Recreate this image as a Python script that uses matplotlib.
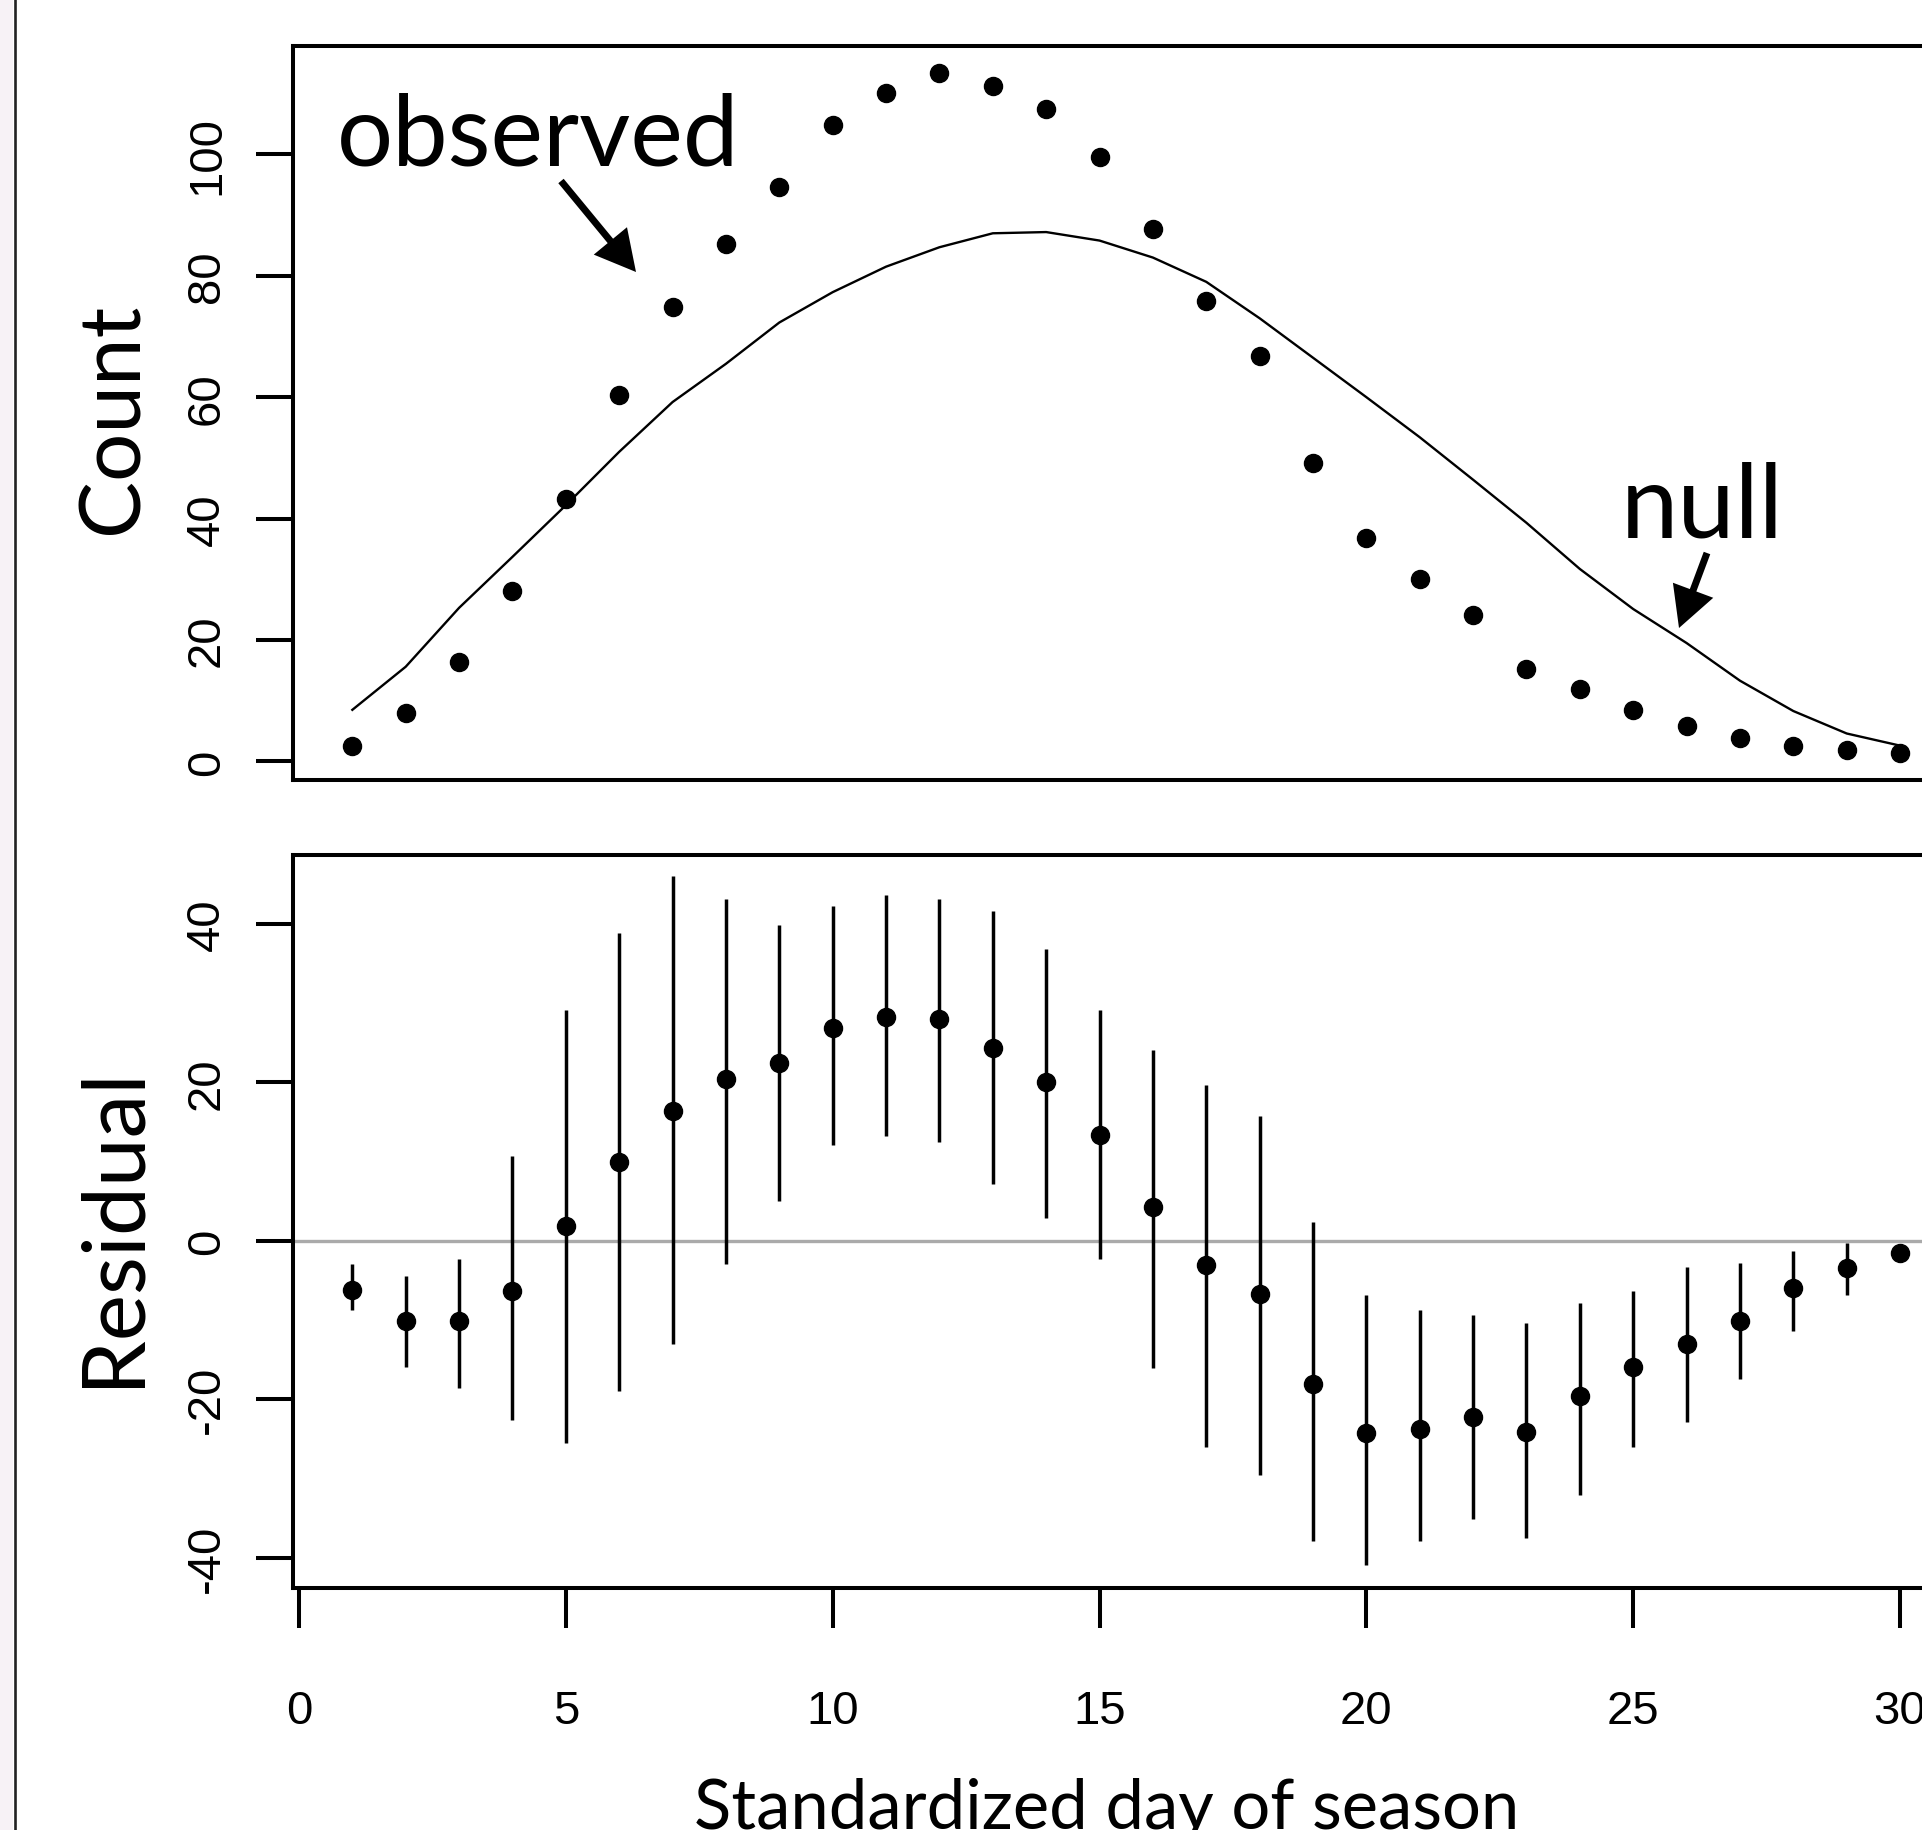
import numpy as np
import matplotlib
matplotlib.use("Agg")
import matplotlib.pyplot as plt
from matplotlib.patches import FancyArrowPatch, Rectangle
from matplotlib.lines import Line2D

plt.rcParams["axes.unicode_minus"] = False

# ---- data ----
days = np.arange(1, 31)

observed = [2.6, 7.9, 16.4, 28.1, 43.2, 60.4, 74.9, 85.2, 94.6, 104.8,
            110.1, 113.4, 111.3, 107.4, 99.5, 87.7, 75.9, 66.8, 49.1, 36.8,
            30.1, 24.2, 15.2, 11.9, 8.5, 5.9, 3.8, 2.6, 1.8, 1.4]

null_mean = [8.5, 15.6, 25.3, 33.7, 42.2, 51.0, 59.2, 65.5, 72.3, 77.3,
             81.5, 84.7, 87.0, 87.2, 85.8, 83.0, 79.0, 73.0, 66.5, 60.0,
             53.4, 46.4, 39.3, 31.7, 25.1, 19.5, 13.3, 8.3, 4.6, 2.6]

resid = [-6.2, -10.2, -10.2, -6.3, 1.9, 9.9, 16.4, 20.4, 22.4, 26.8,
         28.3, 28.0, 24.3, 20.0, 13.3, 4.3, -3.1, -6.7, -18.1, -24.3,
         -23.8, -22.3, -24.2, -19.6, -16.0, -13.0, -10.1, -6.0, -3.4, -1.5]
resid_lo = [-8.8, -15.9, -18.6, -22.6, -25.5, -19.0, -13.0, -2.9, 5.0, 12.1,
            13.2, 12.5, 7.1, 2.9, -2.3, -16.1, -26.0, -29.6, -37.9, -41.0,
            -37.9, -35.1, -37.5, -32.1, -26.0, -22.9, -17.4, -11.4, -6.85, -2.4]
resid_hi = [-2.9, -4.5, -2.3, 10.7, 29.1, 38.8, 46.1, 43.2, 39.8, 42.2,
            43.7, 43.2, 41.6, 36.8, 29.1, 24.1, 19.7, 15.8, 2.3, -6.8,
            -8.8, -9.4, -10.4, -7.9, -6.4, -3.3, -2.8, -1.25, -0.25, -0.8]

count_ticks = [0, 20, 40, 60, 80, 100]
resid_ticks = [-40, -20, 0, 20, 40]
day_ticks = [0, 5, 10, 15, 20, 25, 30]

# ---- layout (pixels of the 1922x1831 picture) ----
W, H = 1922, 1831
label_font = "Lato"
tick_font = "Liberation Sans"


def box(left, top, right, bottom):
    return [left / W, 1 - bottom / H, (right - left) / W, (bottom - top) / H]


def fxy(x, y):
    return (x / W, 1 - y / H)


fig = plt.figure(figsize=(W / 100, H / 100), dpi=100)

# strip of slide background + border on the left edge
fig.add_artist(Rectangle((0, 0), 13 / W, 1, transform=fig.transFigure,
                         facecolor="#f7f2f6", edgecolor="none"))
fig.add_artist(Line2D([14.8 / W, 14.8 / W], [0, 1], transform=fig.transFigure,
                      color="#222222", lw=1.9))

ax1 = fig.add_axes(box(293, 46.7, 1962, 781))
ax2 = fig.add_axes(box(293, 856, 1962, 1588.6))

for ax in (ax1, ax2):
    ax.set_xlim(-0.112, 31.16)
    for s in ax.spines.values():
        s.set_linewidth(2.9)
    ax.tick_params(direction="out", width=2.9, labelsize=34)
    ax.tick_params(axis="y", length=27, pad=19)
    ax.tick_params(axis="x", length=29, pad=44)

# top panel: observed counts and null expectation
ax1.plot(days, null_mean, color="black", lw=1.7)
ax1.plot(days, observed, "o", color="black", ms=13)
ax1.set_ylim(-3.06, 117.9)
ax1.set_yticks(count_ticks)
ax1.set_xticks([])

# bottom panel: residuals with intervals
ax2.axhline(0, color="#aaaaaa", lw=2.4, zorder=1)
ax2.vlines(days, resid_lo, resid_hi, color="black", lw=2.5, zorder=2)
ax2.plot(days, resid, "o", color="black", ms=13, zorder=3)
ax2.set_ylim(-43.8, 48.7)
ax2.set_yticks(resid_ticks)
ax2.set_xticks(day_ticks)

for ax in (ax1, ax2):
    for lab in ax.get_yticklabels() + ax.get_xticklabels():
        lab.set_family(tick_font)
    for lab in ax.get_yticklabels():
        lab.set_rotation(90)
        lab.set_va("center")

# axis titles
fig.text(*fxy(138, 418), "Count", rotation=90, rotation_mode="anchor",
         ha="center", va="baseline", fontsize=61.5, family=label_font)
fig.text(*fxy(137, 1226), "Residual", rotation=90, rotation_mode="anchor",
         ha="center", va="baseline", fontsize=63, family=label_font)
fig.text(*fxy(1107, 1829), "Standardized day of season", ha="center",
         va="baseline", fontsize=49.5, family=label_font)

# annotations
fig.text(*fxy(337, 166), "observed", ha="left", va="baseline",
         fontsize=71.5, family=label_font)
fig.text(*fxy(1621, 537), "null", ha="left", va="baseline",
         fontsize=74, family=label_font)

for tail, tip in [((561, 182), (636, 273)), ((1707, 554), (1679, 629))]:
    arr = FancyArrowPatch(fxy(*tail), fxy(*tip), transform=fig.transFigure,
                          arrowstyle="simple,head_length=2.9,head_width=3.1,tail_width=0.5",
                          mutation_scale=10, shrinkA=0, shrinkB=0,
                          facecolor="black", edgecolor="none")
    fig.add_artist(arr)

fig.savefig("out.png", dpi=100)
